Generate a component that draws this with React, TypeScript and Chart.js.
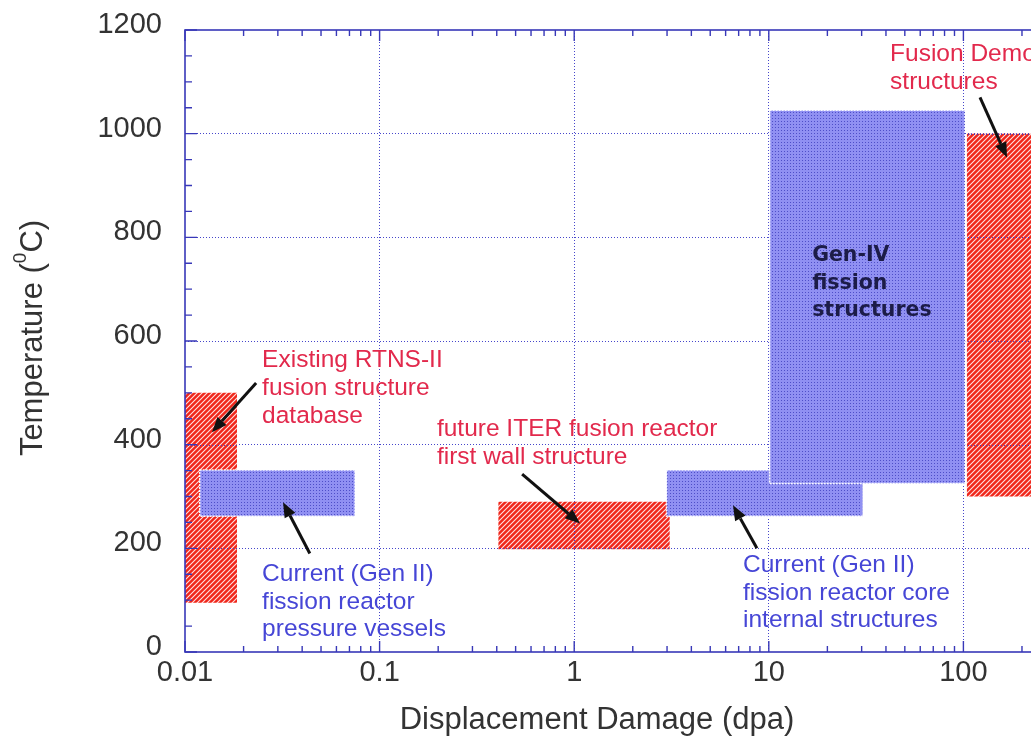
import React, { useEffect, useRef } from 'react';
import { Chart, registerables } from 'chart.js';

Chart.register(...registerables);

// ---------- data ----------
const xTickValues = [0.01, 0.1, 1, 10, 100, 1000];
const xTickLabels = ['0.01', '0.1', '1', '10', '100', '1000'];
const yTickValues = [0, 200, 400, 600, 800, 1000, 1200];
const yTickLabels = ['0', '200', '400', '600', '800', '1000', '1200'];

// regions (dpa range x temperature range)
const boxNames = ['Gen-IV fission structures', 'Gen II core internals', 'Gen II pressure vessels', 'ITER first wall', 'Fusion Demo structures', 'RTNS-II database'];
const boxKind = ['fission', 'fission', 'fission', 'fusion', 'fusion', 'fusion'];
const boxXMin = [10.1, 2.98, 0.0119, 0.407, 104, 0.01];
const boxXMax = [102, 30.5, 0.0748, 3.1, 400, 0.0185];
const boxYMin = [325, 262, 262, 198, 300, 95];
const boxYMax = [1045, 351, 351, 290, 1000, 500];

// annotations (anchor = left of text, centre of first line, in data units)
const annLines = [
  ['Existing RTNS-II', 'fusion structure', 'database'],
  ['future ITER fusion reactor', 'first wall structure'],
  ['Current (Gen II)', 'fission reactor', 'pressure vessels'],
  ['Current (Gen II)', 'fission reactor core', 'internal structures'],
  ['Fusion Demo', 'structures'],
  ['Gen-IV', 'fission', 'structures'],
];
const annX = [0.0249, 0.197, 0.0249, 7.37, 42.0, 16.7];
const annY = [563, 430, 150, 167, 1153, 764];
const annKind = ['red', 'red', 'blue', 'blue', 'red', 'dark'];

// arrows (tail -> tip, data units)
const arrowTailX = [0.0232, 0.0438, 0.54, 8.69, 121.7];
const arrowTailY = [519, 190, 343, 200, 1070];
const arrowTipX = [0.01376, 0.0319, 1.071, 6.55, 167.5];
const arrowTipY = [424, 289, 248, 283, 954];

// ---------- styles ----------
const AXIS_BLUE = '#3838b8';
const GRID_BLUE = 'rgba(60,60,200,0.95)';
const RED_TEXT = '#e2294c';
const BLUE_TEXT = '#4646d6';
const DARK_TEXT = '#1c1c48';
const LABEL_COLOR = '#333333';
const FONT = "'Liberation Sans', Arial, sans-serif";

function makeHatch(): CanvasPattern | string {
  const c = document.createElement('canvas');
  c.width = 5; c.height = 5;
  const g = c.getContext('2d');
  if (!g) return '#ee2a1c';
  g.fillStyle = '#f0261a';
  g.fillRect(0, 0, 5, 5);
  g.strokeStyle = 'rgba(255,225,225,1)';
  g.lineWidth = 1.1;
  g.beginPath();
  g.moveTo(-1, 6); g.lineTo(6, -1);
  g.moveTo(-1, 1); g.lineTo(1, -1);
  g.moveTo(4, 6); g.lineTo(6, 4);
  g.stroke();
  return g.createPattern(c, 'repeat') || '#ee2a1c';
}

function makeDots(): CanvasPattern | string {
  const c = document.createElement('canvas');
  c.width = 3; c.height = 3;
  const g = c.getContext('2d');
  if (!g) return '#8a8aee';
  g.fillStyle = '#9090f2';
  g.fillRect(0, 0, 3, 3);
  g.fillStyle = '#4e4ec8';
  g.fillRect(1, 1, 1, 1);
  return g.createPattern(c, 'repeat') || '#8a8aee';
}

function drawGridLines(chart: any) {
  const { ctx, chartArea: a, scales } = chart;
  const x = scales.x, y = scales.y;
  ctx.save();
  ctx.strokeStyle = GRID_BLUE;
  ctx.lineWidth = 1;
  ctx.setLineDash([1, 2]);
  ctx.beginPath();
  xTickValues.forEach((v) => {
    if (v === xTickValues[0]) return;
    const px = Math.round(x.getPixelForValue(v)) + 0.5;
    ctx.moveTo(px, a.top); ctx.lineTo(px, a.bottom);
  });
  yTickValues.forEach((v) => {
    if (v === yTickValues[0] || v === yTickValues[yTickValues.length - 1]) return;
    const py = Math.round(y.getPixelForValue(v)) + 0.5;
    ctx.moveTo(a.left, py); ctx.lineTo(a.right, py);
  });
  ctx.stroke();
  ctx.restore();
}

const overlayPlugin = {
  id: 'overlay',
  afterDatasetDraw(chart: any, args: any) {
    const { ctx, chartArea: a, scales } = chart;
    const x = scales.x, y = scales.y;
    const i = args.index;
    const redIdx = boxKind.map((k, j) => (k === 'fusion' ? j : -1)).filter((j) => j >= 0);
    const lastRed = Math.min(...redIdx);
    if (i === lastRed) {
      // grid lines show through the hatched fusion regions
      ctx.save();
      ctx.beginPath();
      redIdx.forEach((j) => {
        const x0 = x.getPixelForValue(boxXMin[j]);
        const x1 = x.getPixelForValue(boxXMax[j]);
        const y0 = y.getPixelForValue(boxYMin[j]);
        const y1 = y.getPixelForValue(boxYMax[j]);
        ctx.rect(x0, y1, x1 - x0, y0 - y1);
      });
      ctx.clip();
      drawGridLines(chart);
      ctx.restore();
    }
    if (boxKind[i] === 'fission') {
      const x0 = x.getPixelForValue(boxXMin[i]);
      const x1 = x.getPixelForValue(boxXMax[i]);
      const y0 = y.getPixelForValue(boxYMin[i]);
      const y1 = y.getPixelForValue(boxYMax[i]);
      ctx.save();
      ctx.beginPath();
      ctx.rect(a.left, a.top, a.right - a.left, a.bottom - a.top);
      ctx.clip();
      ctx.strokeStyle = 'rgba(255,255,255,0.95)';
      ctx.lineWidth = 1.5;
      ctx.setLineDash([2, 1]);
      ctx.strokeRect(x0, y1, x1 - x0, y0 - y1);
      ctx.restore();
    }
  },
  afterDraw(chart: any) {
    const { ctx, chartArea: a, scales } = chart;
    const x = scales.x, y = scales.y;
    ctx.save();
    // frame
    ctx.strokeStyle = AXIS_BLUE;
    ctx.lineWidth = 1.6;
    ctx.setLineDash([]);
    ctx.strokeRect(a.left, a.top, a.right - a.left, a.bottom - a.top);
    // x ticks (bottom & top), inward
    ctx.lineWidth = 1.4;
    ctx.beginPath();
    for (let d = 0; d < xTickValues.length; d++) {
      const dec = xTickValues[d];
      const px = x.getPixelForValue(dec);
      ctx.moveTo(px, a.bottom); ctx.lineTo(px, a.bottom - 11);
      ctx.moveTo(px, a.top); ctx.lineTo(px, a.top + 11);
      if (d === xTickValues.length - 1) break;
      for (let k = 2; k <= 9; k++) {
        const pm = x.getPixelForValue(k * dec);
        ctx.moveTo(pm, a.bottom); ctx.lineTo(pm, a.bottom - 6);
        ctx.moveTo(pm, a.top); ctx.lineTo(pm, a.top + 6);
      }
    }
    // y ticks (left & right), inward
    for (let v = yTickValues[0]; v <= yTickValues[yTickValues.length - 1]; v += 50) {
      const py = y.getPixelForValue(v);
      const len = v % 200 === 0 ? 12 : 7;
      ctx.moveTo(a.left, py); ctx.lineTo(a.left + len, py);
      ctx.moveTo(a.right, py); ctx.lineTo(a.right - len, py);
    }
    ctx.stroke();

    // arrows
    ctx.fillStyle = '#111111';
    ctx.strokeStyle = '#111111';
    ctx.lineWidth = 3;
    for (let i = 0; i < arrowTailX.length; i++) {
      const tx = x.getPixelForValue(arrowTailX[i]);
      const ty = y.getPixelForValue(arrowTailY[i]);
      const hx = x.getPixelForValue(arrowTipX[i]);
      const hy = y.getPixelForValue(arrowTipY[i]);
      const ang = Math.atan2(hy - ty, hx - tx);
      const headLen = 15, headW = 6;
      const bx = hx - headLen * Math.cos(ang);
      const by = hy - headLen * Math.sin(ang);
      ctx.beginPath();
      ctx.moveTo(tx, ty);
      ctx.lineTo(bx, by);
      ctx.stroke();
      ctx.beginPath();
      ctx.moveTo(hx, hy);
      ctx.lineTo(bx + headW * Math.sin(ang), by - headW * Math.cos(ang));
      ctx.lineTo(bx - headW * Math.sin(ang), by + headW * Math.cos(ang));
      ctx.closePath();
      ctx.fill();
    }

    // annotation texts
    ctx.textBaseline = 'middle';
    ctx.textAlign = 'left';
    for (let i = 0; i < annLines.length; i++) {
      const px = x.getPixelForValue(annX[i]);
      const py = y.getPixelForValue(annY[i]);
      const kind = annKind[i];
      let lh = 28;
      if (kind === 'dark') {
        ctx.font = "bold 20.5px 'DejaVu Sans', sans-serif";
        ctx.fillStyle = DARK_TEXT;
        lh = 27.5;
      } else {
        ctx.font = `24.5px ${FONT}`;
        ctx.fillStyle = kind === 'red' ? RED_TEXT : BLUE_TEXT;
        lh = kind === 'red' ? 28 : 27.5;
      }
      annLines[i].forEach((t, j) => ctx.fillText(t, px, py + j * lh));
    }

    // axis titles
    ctx.fillStyle = LABEL_COLOR;
    ctx.font = `31px ${FONT}`;
    ctx.textAlign = 'center';
    ctx.fillText('Displacement Damage (dpa)', a.left + 412, 720);

    // y title with superscript
    ctx.save();
    ctx.translate(33, 338);
    ctx.rotate(-Math.PI / 2);
    const main = 'Temperature (';
    const sup = '0';
    const tail = 'C)';
    ctx.font = `31px ${FONT}`;
    const w1 = ctx.measureText(main).width;
    const w3 = ctx.measureText(tail).width;
    ctx.font = `19px ${FONT}`;
    const w2 = ctx.measureText(sup).width;
    const total = w1 + w2 + w3;
    let cx = -total / 2;
    ctx.textAlign = 'left';
    ctx.font = `31px ${FONT}`;
    ctx.fillText(main, cx, 0);
    cx += w1;
    ctx.font = `19px ${FONT}`;
    ctx.fillText(sup, cx, -12);
    cx += w2;
    ctx.font = `31px ${FONT}`;
    ctx.fillText(tail, cx, 0);
    ctx.restore();

    ctx.restore();
  },
};

export default function App() {
  const ref = useRef<HTMLCanvasElement>(null);
  useEffect(() => {
    const canvas = ref.current;
    if (!canvas) return;
    const red = makeHatch();
    const blue = makeDots();
    const datasets = boxNames.map((name, i) => ({
      label: name,
      data: [
        { x: boxXMin[i], y: boxYMax[i] },
        { x: boxXMax[i], y: boxYMax[i] },
      ],
      showLine: true,
      borderWidth: 0,
      borderColor: 'rgba(0,0,0,0)',
      pointRadius: 0,
      pointHoverRadius: 0,
      tension: 0,
      fill: { value: boxYMin[i] },
      backgroundColor: boxKind[i] === 'fusion' ? red : blue,
    }));
    const chart = new Chart(canvas, {
      type: 'line',
      data: { datasets } as any,
      options: {
        responsive: false,
        animation: false,
        devicePixelRatio: 1,
        events: [],
        layout: { padding: { top: 30, right: 42, left: 0, bottom: 0 } },
        plugins: { legend: { display: false }, tooltip: { enabled: false } },
        scales: {
          x: {
            type: 'logarithmic',
            min: xTickValues[0],
            max: xTickValues[xTickValues.length - 1],
            afterBuildTicks: (s: any) => {
              s.ticks = xTickValues.map((v) => ({ value: v }));
            },
            afterFit: (s: any) => {
              s.height = 84;
              s.paddingLeft = 0;
              s.paddingRight = 0;
            },
            ticks: {
              callback: (_v: any, i: number) => xTickLabels[i],
              font: { family: FONT, size: 29 },
              color: LABEL_COLOR,
              padding: 4,
              maxRotation: 0,
              autoSkip: false,
            },
            grid: {
              color: (c: any) => (c.tick && c.tick.value === xTickValues[0] ? 'rgba(0,0,0,0)' : GRID_BLUE),
              lineWidth: 1,
              drawTicks: false,
            },
            border: { display: false, dash: [1, 2] },
          },
          y: {
            type: 'linear',
            min: yTickValues[0],
            max: yTickValues[yTickValues.length - 1],
            afterBuildTicks: (s: any) => {
              s.ticks = yTickValues.map((v) => ({ value: v }));
            },
            afterFit: (s: any) => {
              s.width = 185;
              s.paddingTop = 0;
              s.paddingBottom = 0;
            },
            ticks: {
              callback: (_v: any, i: number) => yTickLabels[i],
              font: { family: FONT, size: 29 },
              color: LABEL_COLOR,
              padding: 23,
              labelOffset: -5,
            },
            grid: {
              color: (c: any) =>
                c.tick && (c.tick.value === yTickValues[0] || c.tick.value === yTickValues[yTickValues.length - 1])
                  ? 'rgba(0,0,0,0)'
                  : GRID_BLUE,
              lineWidth: 1,
              drawTicks: false,
            },
            border: { display: false, dash: [1, 2] },
          },
        },
      } as any,
      plugins: [overlayPlugin],
    });
    return () => chart.destroy();
  }, []);

  return (
    <div
      style={{
        position: 'absolute',
        left: 0,
        top: 0,
        width: 1031,
        height: 736,
        overflow: 'hidden',
        background: '#ffffff',
      }}
    >
      <canvas ref={ref} width={1200} height={736} style={{ width: 1200, height: 736, display: 'block' }} />
    </div>
  );
}
